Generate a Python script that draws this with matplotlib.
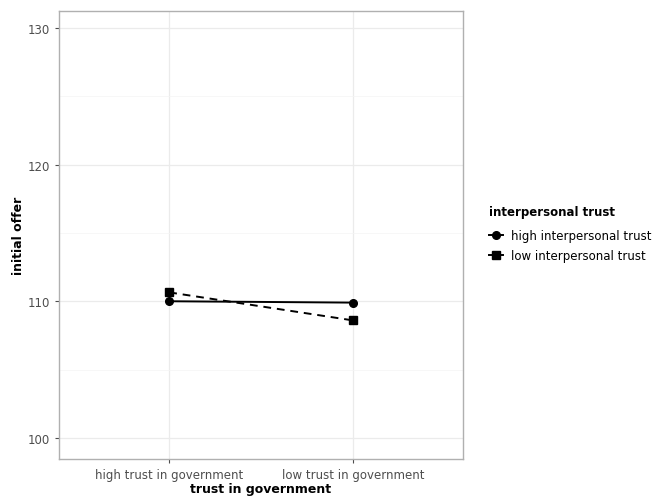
import matplotlib.pyplot as plt
from matplotlib.lines import Line2D

# data
gov_levels = ["high trust in government", "low trust in government"]
high_interp = [110.0, 109.9]
low_interp = [110.65, 108.6]
series_labels = ["high interpersonal trust", "low interpersonal trust"]

fig = plt.figure(figsize=(6.61, 5.02), dpi=100)
ax = fig.add_axes([0.0893, 0.0837, 0.6112, 0.8923])

xpos = list(range(1, len(gov_levels) + 1))

ax.plot(xpos, high_interp, color="black", linestyle="-", lw=1.4,
        marker="o", markersize=5.5, zorder=3)
ax.plot(xpos, low_interp, color="black", linestyle=(0, (4, 3)), lw=1.4,
        marker="s", markersize=5.5, zorder=3)

ax.set_xlim(0.4, 2.6)
ax.set_ylim(98.45, 131.25)
ax.set_xticks(xpos)
ax.set_xticklabels(gov_levels)
ax.set_yticks([100, 110, 120, 130])
ax.set_yticks([105, 115, 125], minor=True)

ax.grid(True, which="major", color="#EBEBEB", lw=0.9)
ax.grid(True, which="minor", axis="y", color="#F4F4F4", lw=0.5)
ax.set_axisbelow(True)

for s in ax.spines.values():
    s.set_color("#B0B0B0")
    s.set_linewidth(1.0)

ax.tick_params(axis="both", which="major", colors="#4D4D4D", labelsize=8.5,
               length=3, width=0.8, labelcolor="#4D4D4D")
ax.tick_params(axis="both", which="minor", length=0)

ax.set_xlabel("trust in government", fontsize=9, fontweight="bold", labelpad=1)
ax.set_ylabel("initial offer", fontsize=9, fontweight="bold", labelpad=2)

handles = [
    Line2D([], [], color="black", lw=1.4, marker="o", markersize=5.5),
    Line2D([], [], color="black", lw=1.4, marker="s", markersize=5.5),
]
leg = fig.legend(handles, series_labels, title="interpersonal trust",
                 loc="upper left", bbox_to_anchor=(0.732, 0.6),
                 frameon=False, fontsize=8.5, title_fontsize=8.5,
                 handlelength=1.2, handletextpad=0.7, labelspacing=0.6,
                 borderaxespad=0)
leg.get_title().set_fontweight("bold")
leg._legend_box.align = "left"
leg._legend_box.sep = 8

fig.savefig("out.png", dpi=100)
